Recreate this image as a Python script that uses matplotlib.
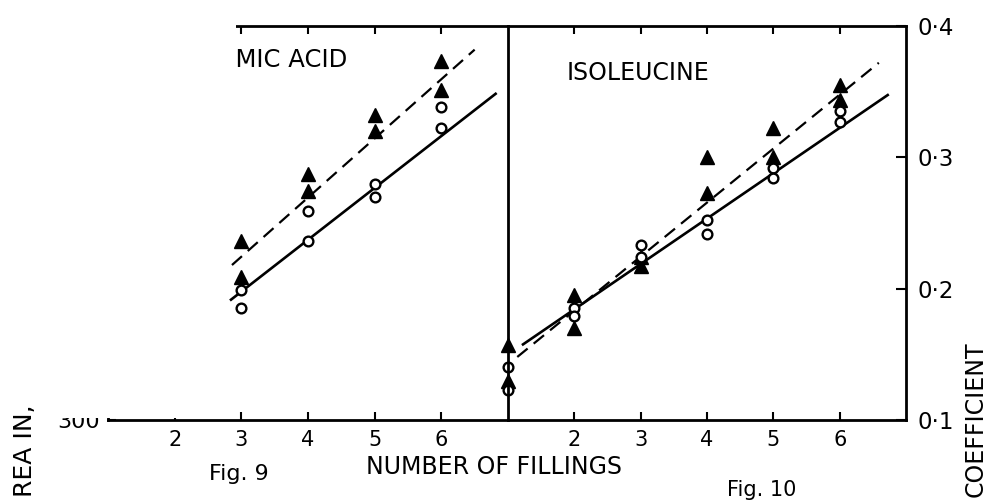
import matplotlib
matplotlib.use("Agg")
import matplotlib.pyplot as plt
from matplotlib.patches import Rectangle

plt.rcParams['font.family'] = ['DejaVu Sans']

# Fig. 9 (glutamic acid) -- y in the panel's own relative units
g_x = [3, 4, 5, 6]
g_tri_hi = [0.236, 0.287, 0.332, 0.373]
g_tri_lo = [0.209, 0.274, 0.320, 0.351]
g_circ_hi = [0.199, 0.259, 0.280, 0.338]
g_circ_lo = [0.185, 0.236, 0.270, 0.322]
g_solid_x = [2.83, 6.83]
g_solid_y = [0.191, 0.349]
g_dash_x = [2.86, 6.5]
g_dash_y = [0.218, 0.382]

# Fig. 10 (isoleucine) -- coefficient
i_x = [1, 2, 3, 4, 5, 6]
i_tri_hi = [0.157, 0.195, 0.224, 0.300, 0.322, 0.355]
i_tri_lo = [0.130, 0.170, 0.217, 0.273, 0.300, 0.344]
i_circ_hi = [0.140, 0.185, 0.233, 0.252, 0.292, 0.335]
i_circ_lo = [0.123, 0.179, 0.224, 0.242, 0.284, 0.327]
i_solid_x = [1.21, 6.74]
i_solid_y = [0.157, 0.348]
i_dash_x = [1.14, 6.59]
i_dash_y = [0.148, 0.372]

x_ticks = [2, 3, 4, 5, 6]
coef_ticks = [0.1, 0.2, 0.3, 0.4]
coef_labels = ['0·1', '0·2', '0·3', '0·4']

fig = plt.figure(figsize=(9.86, 5.03), dpi=100)
ax1 = fig.add_axes([0.1095, 0.165, 0.4057, 0.7833])
ax2 = fig.add_axes([0.5152, 0.165, 0.4037, 0.7833])


def draw(ax, x, th, tl, ch, cl, sx, sy, dx, dy):
    ax.plot(sx, sy, color='black', lw=1.9, solid_capstyle='butt')
    ax.plot(dx, dy, color='black', lw=1.6, dashes=(6, 3.5))
    for t in (th, tl):
        ax.plot(x, t, ls='none', marker='^', ms=10, color='black', clip_on=False)
    for c in (ch, cl):
        ax.plot(x, c, ls='none', marker='o', ms=7, mfc='white', mec='black',
                mew=1.7, clip_on=False)
    ax.set_xlim(1, 7)
    ax.set_ylim(0.1, 0.4)
    ax.set_xticks(x_ticks)
    ax.tick_params(axis='x', which='both', direction='in', length=6, width=1.5,
                   top=True, labeltop=False, labelsize=15, pad=7)
    for s in ax.spines.values():
        s.set_linewidth(2)


draw(ax1, g_x, g_tri_hi, g_tri_lo, g_circ_hi, g_circ_lo,
     g_solid_x, g_solid_y, g_dash_x, g_dash_y)
draw(ax2, i_x, i_tri_hi, i_tri_lo, i_circ_hi, i_circ_lo,
     i_solid_x, i_solid_y, i_dash_x, i_dash_y)

ax1.set_yticks([0.1])
ax1.set_yticklabels(['300'])
ax1.tick_params(axis='y', direction='in', length=6, width=1.5, labelsize=16, pad=6)
ax1.spines['right'].set_visible(False)

ax2.yaxis.tick_right()
ax2.set_yticks(coef_ticks)
ax2.set_yticklabels(coef_labels)
ax2.tick_params(axis='y', direction='in', length=7, width=1.5, labelsize=16.5, pad=8)

ax1.text(0.352, 0.8807, 'GLUTAMIC ACID', transform=fig.transFigure,
         ha='right', va='center', fontsize=17.5)
ax2.text(0.575, 0.855, 'ISOLEUCINE', transform=fig.transFigure,
         ha='left', va='center', fontsize=17)

# the scan is blanked out at the top left
for r in [(0, 0.841, 0.2394, 0.159), (0, 0.169, 0.2312, 0.672)]:
    fig.add_artist(Rectangle(r[:2], r[2], r[3], transform=fig.transFigure,
                             facecolor='white', edgecolor='none', zorder=5))

fig.text(0.501, 0.0716, 'NUMBER OF FILLINGS', ha='center', va='center', fontsize=17)
fig.text(0.242, 0.058, 'Fig. 9', ha='center', va='center', fontsize=16)
fig.text(0.773, 0.026, 'Fig. 10', ha='center', va='center', fontsize=15)
fig.text(0.025, 0.012, 'REA IN,', rotation=90, ha='center', va='bottom',
         fontsize=18, zorder=6)
fig.text(0.989, 0.012, 'COEFFICIENT', rotation=90, ha='center', va='bottom',
         fontsize=17, zorder=6)

fig.savefig('out.png', dpi=100)
